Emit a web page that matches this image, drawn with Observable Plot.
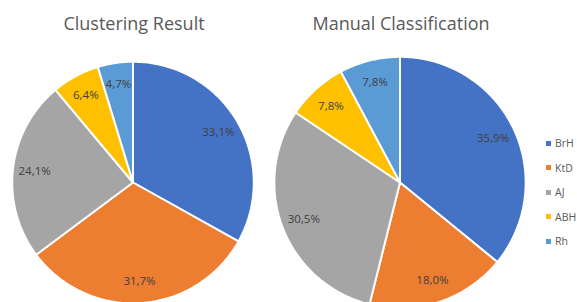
<!DOCTYPE html>
<html><head><meta charset="utf-8">
<script src="https://cdn.jsdelivr.net/npm/d3@7"></script>
<script src="https://cdn.jsdelivr.net/npm/@observablehq/plot@0.6"></script>
<style>
body{margin:0;background:#fff;}
#wrap{position:relative;width:577px;height:302px;overflow:hidden;font-family:"Open Sans",sans-serif;}
#legend{position:absolute;left:546px;top:131px;}
.item{display:flex;align-items:center;height:24.5px;font-size:10.5px;color:#595959;white-space:nowrap;}
.sw{width:5px;height:5px;margin-right:4px;flex:none;}
</style></head><body><div id="wrap"></div>
<script>
const charts = ["Clustering Result", "Manual Classification"];
const categories = ["BrH", "KtD", "AJ", "ABH", "Rh"];
const clusteringValues = [33.1, 31.7, 24.1, 6.4, 4.7];
const manualValues = [35.9, 18.0, 30.5, 7.8, 7.8];
const colors = ["#4472C4", "#ED7D31", "#A5A5A5", "#FFC000", "#5B9BD5"];

// layout constants
const W = 577, H = 302, unit = 122, mt = 40, ml = 0, mr = 43;
const panelW = (W - ml - mr) / 2;
const cx = 132.5, cy = 182;
const radii = [0.99, 1.03];
const labelR = 0.82;

const series = [clusteringValues, manualValues];
const pie = d3.pie().sort(null).value(d => d);
const slicePts = [], labels = [];
series.forEach((vals, ci) => {
  const r = radii[ci];
  pie(vals).forEach((a, i) => {
    const id = ci + "-" + i;
    const pts = [{x: 0, y: 0}];
    const n = Math.max(2, Math.ceil((a.endAngle - a.startAngle) / (Math.PI / 180)));
    for (let k = 0; k <= n; k++) {
      const t = a.startAngle + (a.endAngle - a.startAngle) * k / n;
      pts.push({x: r * Math.sin(t), y: r * Math.cos(t)});
    }
    pts.forEach(p => slicePts.push({...p, chart: charts[ci], cat: categories[i], id}));
    const m = (a.startAngle + a.endAngle) / 2;
    labels.push({x: labelR * r * Math.sin(m), y: labelR * r * Math.cos(m), chart: charts[ci],
      text: vals[i].toFixed(1).replace(".", ",") + "%"});
  });
});

const plot = Plot.plot({
  width: W, height: H,
  marginTop: mt, marginLeft: ml, marginRight: mr, marginBottom: 0,
  fx: {domain: charts, padding: 0, label: null, axis: null},
  x: {domain: [-cx / unit, (panelW - cx) / unit], axis: null},
  y: {domain: [(cy - H) / unit, (cy - mt) / unit], axis: null},
  color: {domain: categories, range: colors},
  style: {fontFamily: "'Open Sans', sans-serif", fontSize: "11px", background: "white"},
  marks: [
    Plot.line(slicePts, {x: "x", y: "y", z: "id", fx: "chart", fill: "cat", stroke: "white",
      strokeWidth: 2, strokeLinejoin: "miter", curve: "linear-closed"}),
    Plot.text(labels, {x: "x", y: "y", fx: "chart", text: "text", fill: "#404040", fontSize: 11.5}),
    Plot.axisFx({anchor: "top", tickSize: 0, tickPadding: 11, label: null, fontSize: 18, fill: "#595959"})
  ]
});
document.getElementById("wrap").appendChild(plot);

const colorScale = plot.scale("color");
const legend = document.createElement("div");
legend.id = "legend";
colorScale.domain.forEach((c, i) => {
  const item = document.createElement("div");
  item.className = "item";
  const sw = document.createElement("span");
  sw.className = "sw";
  sw.style.background = colorScale.range[i];
  item.appendChild(sw);
  item.appendChild(document.createTextNode(c));
  legend.appendChild(item);
});
document.getElementById("wrap").appendChild(legend);
</script></body></html>
